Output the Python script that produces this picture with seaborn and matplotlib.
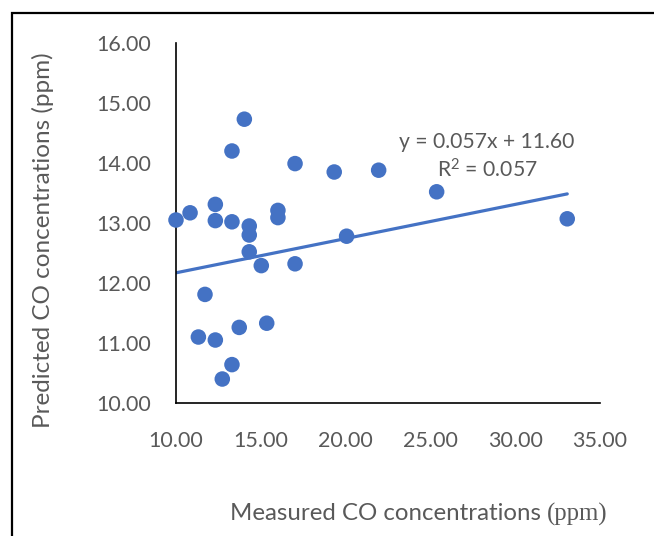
import numpy as np
import pandas as pd
import matplotlib
matplotlib.use('Agg')
import matplotlib.pyplot as plt
import matplotlib.patches as patches
import seaborn as sns

# values
measured = [14.03, 13.30, 17.02, 12.32, 10.83, 10.00, 12.32, 13.30, 16.01, 16.01,
            14.32, 14.32, 14.32, 15.03, 17.02, 11.71, 11.32, 12.32, 13.73, 15.35,
            13.30, 12.73, 19.33, 21.95, 25.37, 33.07, 20.06]
predicted = [14.73, 14.20, 13.99, 13.31, 13.17, 13.05, 13.04, 13.02, 13.21, 13.09,
             12.95, 12.80, 12.52, 12.29, 12.32, 11.81, 11.10, 11.05, 11.26, 11.33,
             10.64, 10.40, 13.85, 13.88, 13.52, 13.07, 12.78]
slope = 0.057
intercept = 11.60
r2 = 0.057
x_ticks = [10, 15, 20, 25, 30, 35]
y_ticks = [10, 11, 12, 13, 14, 15, 16]

df = pd.DataFrame({'measured': measured, 'predicted': predicted})

sns.set_style('white')
plt.rcParams['font.family'] = ['Lato', 'DejaVu Sans']
plt.rcParams['mathtext.fontset'] = 'custom'
plt.rcParams['mathtext.rm'] = 'Lato'
plt.rcParams['mathtext.it'] = 'Lato'
plt.rcParams['mathtext.default'] = 'rm'

blue = '#4472C4'
grey = '#595959'

fig = plt.figure(figsize=(6.54, 5.36), dpi=100)
ax = fig.add_axes([0.2691, 0.2481, 0.6483, 0.6717])

sns.scatterplot(data=df, x='measured', y='predicted', ax=ax, s=125,
                color=blue, edgecolor='none', zorder=3, clip_on=False)

# trendline from the equation shown on the chart
tx = np.array([min(measured), max(measured)])
ax.plot(tx, slope * tx + intercept, color=blue, lw=2.3, zorder=2)

ax.set_xlim(10, 35)
ax.set_ylim(10, 16)
ax.set_xticks(x_ticks)
ax.set_yticks(y_ticks)
ax.set_xticklabels([f'{v:.2f}' for v in x_ticks])
ax.set_yticklabels([f'{v:.2f}' for v in y_ticks])
ax.tick_params(length=0, labelsize=15.5, labelcolor=grey)
ax.tick_params(axis='y', pad=18)
ax.tick_params(axis='x', pad=20)
for side in ['top', 'right']:
    ax.spines[side].set_visible(False)
for side in ['left', 'bottom']:
    ax.spines[side].set_color('black')
    ax.spines[side].set_linewidth(1.2)
ax.set_xlabel('')
ax.set_ylabel('')

fig.text(43 / 654, 1 - 240 / 536, 'Predicted CO concentrations (ppm)', rotation=90,
         ha='center', va='center', fontsize=17.5, color=grey)

fig.text(487 / 654, 1 - 142 / 536, f'y = {slope:.3f}x + {intercept:.2f}',
         ha='center', va='center', fontsize=15.2, color=grey)
fig.text(487 / 654, 1 - 170 / 536, f'R$^2$ = {r2:.3f}',
         ha='center', va='center', fontsize=15.2, color=grey)

# x label: sans part then serif "(ppm)"
t1 = fig.text(230 / 654, 1 - 514 / 536, 'Measured CO concentrations ',
              ha='left', va='center', fontsize=17.3, color=grey)
fig.canvas.draw()
bb = t1.get_window_extent(fig.canvas.get_renderer())
fig.text(bb.x1 / fig.bbox.width, 1 - 514 / 536, '(ppm)', ha='left', va='center',
         fontsize=17.8, color=grey, family='Liberation Serif')

# outer frame, cut at right and bottom edges
fig.patches.append(patches.Rectangle((12 / 654, -0.1), 1.2, 1.1 - 13 / 536,
                                     transform=fig.transFigure, fill=False,
                                     edgecolor='black', lw=1.6))

fig.savefig('out.png', dpi=100)
